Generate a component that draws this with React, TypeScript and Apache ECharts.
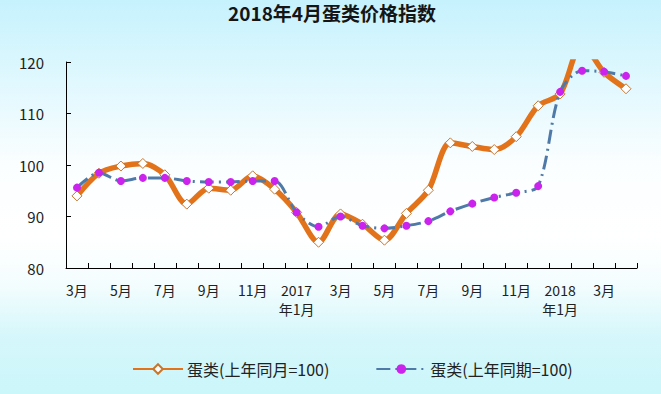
import React, { useEffect, useRef } from "react";
import * as echarts from "echarts";

const categories: string[] = [
  "3月", "4月", "5月", "6月", "7月", "8月", "9月", "10月", "11月", "12月",
  "2017\n年1月", "2月", "3月", "4月", "5月", "6月", "7月", "8月", "9月", "10月", "11月", "12月",
  "2018\n年1月", "2月", "3月", "4月",
];

const monthlyName = "蛋类(上年同月=100)";
const cumulativeName = "蛋类(上年同期=100)";

const monthlyValues: number[] = [
  94.0, 98.4, 99.8, 100.3, 98.1, 92.4, 95.5, 95.1, 97.9, 95.3,
  90.8, 85.0, 90.5, 88.5, 85.4, 90.6, 95.1, 104.3, 103.6, 103.0, 105.5, 111.5,
  113.8, 123.5, 118.0, 114.8,
];

const cumulativeValues: number[] = [
  95.6, 98.5, 96.9, 97.5, 97.5, 96.9, 96.7, 96.7, 96.9, 96.9,
  90.8, 88.0, 90.0, 88.2, 87.7, 88.2, 89.1, 91.0, 92.5, 93.7, 94.6, 95.9,
  114.2, 118.3, 118.1, 117.3,
];

const yMin = 80;
const yMax = 120;
const yInterval = 10;

const FONT = "'Noto Sans CJK SC', 'DejaVu Sans', sans-serif";

export default function App() {
  const ref = useRef<HTMLDivElement>(null);

  useEffect(() => {
    if (!ref.current) return;
    const chart = echarts.init(ref.current, undefined, { renderer: "svg" });
    chart.setOption({
      animation: false,
      backgroundColor: new echarts.graphic.LinearGradient(0, 0, 0, 1, [
        { offset: 0, color: "#c6f2fd" },
        { offset: 0.42, color: "#fbfeff" },
        { offset: 0.6, color: "#ffffff" },
        { offset: 0.72, color: "#f4fdfe" },
        { offset: 0.85, color: "#d6f7fb" },
        { offset: 1, color: "#cbf6fa" },
      ]),
      title: {
        text: "2018年4月蛋类价格指数",
        left: 228,
        top: 3,
        padding: 0,
        textStyle: {
          fontFamily: FONT,
          fontSize: 19,
          fontWeight: "bold",
          color: "#151515",
        },
      },
      legend: {
        top: 361,
        left: 132,
        itemWidth: 50,
        itemHeight: 12,
        itemGap: 46,
        padding: 0,
        textStyle: { fontFamily: FONT, fontSize: 16, color: "#222", padding: [0, 0, 0, -1] },
        data: [monthlyName, cumulativeName],
      },
      grid: { left: 66, right: 24, top: 62, bottom: 126, containLabel: false },
      xAxis: {
        type: "category",
        data: categories,
        boundaryGap: true,
        axisLine: { show: true, lineStyle: { color: "#000", width: 1 } },
        axisTick: { show: true, inside: true, length: 5, interval: 0, lineStyle: { color: "#000" } },
        axisLabel: {
          interval: 1,
          margin: 12,
          fontFamily: FONT,
          fontSize: 14,
          lineHeight: 19,
          color: "#222",
        },
        splitLine: { show: false },
      },
      yAxis: {
        type: "value",
        min: yMin,
        max: yMax,
        interval: yInterval,
        axisLine: { show: true, lineStyle: { color: "#000", width: 1 } },
        axisTick: { show: true, inside: true, length: 5, lineStyle: { color: "#000" } },
        axisLabel: { margin: 22, fontFamily: FONT, fontSize: 15, color: "#222" },
        splitLine: { show: false },
      },
      series: [
        {
          name: monthlyName,
          type: "line",
          data: monthlyValues,
          smooth: 0.3,
          clip: true,
          symbol: "diamond",
          symbolSize: 10,
          lineStyle: { color: "#e2731a", width: 5.5 },
          itemStyle: { color: "#ffffff", borderColor: "#c8762c", borderWidth: 1 },
          z: 2,
        },
        {
          name: cumulativeName,
          type: "line",
          data: cumulativeValues,
          smooth: 0.3,
          clip: true,
          symbol: "circle",
          symbolSize: 8,
          lineStyle: { color: "#4f7aa8", width: 3, type: [14, 5, 2, 5] },
          itemStyle: { color: "#cc22ee", borderWidth: 0 },
          z: 3,
        },
      ],
    });
    return () => chart.dispose();
  }, []);

  return (
    <div
      ref={ref}
      style={{ position: "fixed", left: 0, top: 0, width: 661, height: 394 }}
    />
  );
}
